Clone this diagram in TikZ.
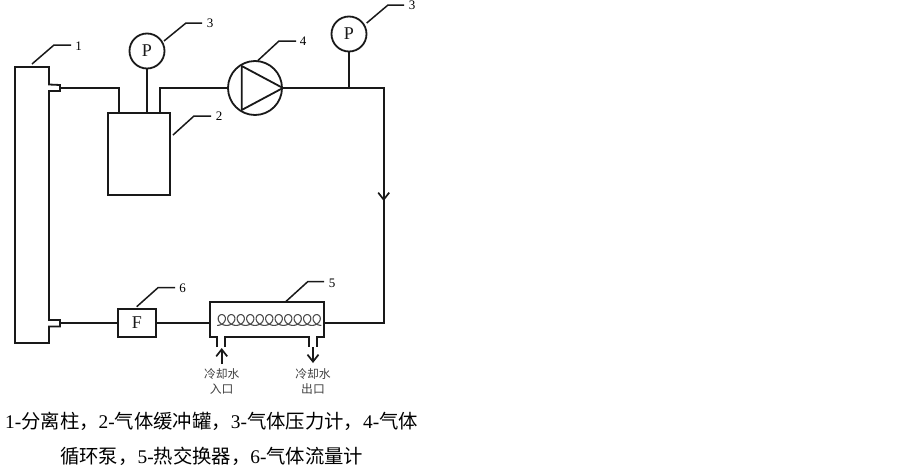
\documentclass[tikz,border=0pt]{standalone}
\usepackage{fontspec}
\setmainfont{Liberation Serif}
\newfontfamily\cjk{Noto Sans CJK SC}
\usetikzlibrary{arrows.meta}
\tikzset{
  pipe/.style={line width=1.8pt,black!90},
  leader/.style={line width=1.5pt,black!90},
  box/.style={draw,pipe,rectangle,inner sep=0pt,fill=white},
  gauge/.style={draw,pipe,circle,inner sep=0pt,minimum size=35pt,font=\fontsize{18}{18}\selectfont},
  tag/.style={inner sep=0pt,font=\fontsize{13}{13}\selectfont},
  small/.style={inner sep=0pt,text=black!75,font=\cjk\fontsize{11.8}{12}\selectfont},
  captext/.style={inner sep=0pt,anchor=west,font=\fontsize{19.35}{20}\selectfont},
  flow/.style={-{Straight Barb[length=7pt,width=11pt,line width=1.7pt]},pipe}
}
\begin{document}
\begin{tikzpicture}[x=1pt,y=-1pt]
\useasboundingbox (0,0) rectangle (903,466);
% column
\draw[pipe,line join=miter] (49,84.5) -- (60,85) -- (60,91) -- (49,91) -- (49,320) -- (60,320) -- (60,326.5) -- (49,326.5) -- (49,343) -- (15,343) -- (15,67) -- (49,67) -- cycle;
\coordinate (top) at (60,88);
\coordinate (bot) at (60,323);
% tank
\node[box,minimum width=62pt,minimum height=82pt] (tank) at (138.7,154) {};
\node[gauge] (p1) at (147,51) {P};
\node[gauge,minimum size=54pt] (pump) at (255,88) {};
\node[gauge] (p2) at (349,34) {P};
\node[box,minimum width=37.7pt,minimum height=27.7pt,font=\fontsize{18}{18}\selectfont] (f) at (136.8,323) {F};
% pump triangle
\draw[pipe,line join=round] (241.7,66) -- (241.7,110) -- (pump.east) -- cycle;
% pipes
\draw[pipe] (top) -- (119,88) -- (119,113);
\draw[pipe] (p1.south) -- (p1.south |- tank.north);
\draw[pipe] (160,113) -- (160,88) -- (pump.west);
\draw[pipe] (pump.east) -- (383.7,88) -- (383.7,323) -- (323.7,323);
\draw[pipe] (p2.south) -- (349,88);
\draw[flow] (383.7,180) -- (383.7,201);
\draw[pipe] (bot) -- (f.west);
\draw[pipe] (f.east) -- (210.3,323);
% exchanger body
\draw[pipe,line join=miter] (217.3,347) -- (217.3,336.7) -- (210.3,336.7) -- (210.3,302.3) -- (323.7,302.3) -- (323.7,336.7) -- (316.7,336.7) -- (316.7,347);
\draw[pipe] (225,347) -- (225,336.7) -- (309,336.7) -- (309,347);
% coil
\draw[line width=1.1pt,black!70,smooth,samples=320,domain=-180:3780,variable=\t]
  plot ({221.8+1.51*(\t/57.2958)-5.8*sin(\t)},{320-5.4*cos(\t)});
% water arrows
\coordinate (inA) at (221.7,364);
\coordinate (inB) at (221.7,348);
\coordinate (outA) at (313,347);
\coordinate (outB) at (313,363);
\draw[flow] (inA) -- (inB);
\draw[flow] (outA) -- (outB);
% leaders
\draw[leader] (32,64) -- (54,45) -- (71,45);
\draw[leader] (173,135) -- (194,116) -- (211,116);
\draw[leader] (164,41) -- (186,23) -- (202,23);
\draw[leader] (366.7,23) -- (388,5) -- (404,5);
\draw[leader] (257.7,60.7) -- (279,41) -- (296,41);
\draw[leader] (285.7,301.7) -- (307.7,281.7) -- (324,281.7);
\draw[leader] (136.7,306.7) -- (158,287.7) -- (175,287.7);
% tags
\node[tag] (t1) at (78.7,46) {1};
\node[tag] (t2) at (219,116) {2};
\node[tag] (t3) at (210,23) {3};
\node[tag] (t3b) at (412,5) {3};
\node[tag] (t4) at (303,41) {4};
\node[tag] (t5) at (332,283) {5};
\node[tag] (t6) at (182.7,288) {6};
\node[small] (w1) at (221.7,374) {冷却水};
\node[small] (w2) at (221.7,389) {入口};
\node[small] (w3) at (313,374) {冷却水};
\node[small] (w4) at (313,389) {出口};
% caption
\node[captext] (c1) at (5,421) {1-{\cjk 分离柱，}2-{\cjk 气体缓冲罐，}3-{\cjk 气体压力计，}4-{\cjk 气体}};
\node[captext] (c2) at (60,456) {{\cjk 循环泵，}5-{\cjk 热交换器，}6-{\cjk 气体流量计}};
\end{tikzpicture}
\end{document}
